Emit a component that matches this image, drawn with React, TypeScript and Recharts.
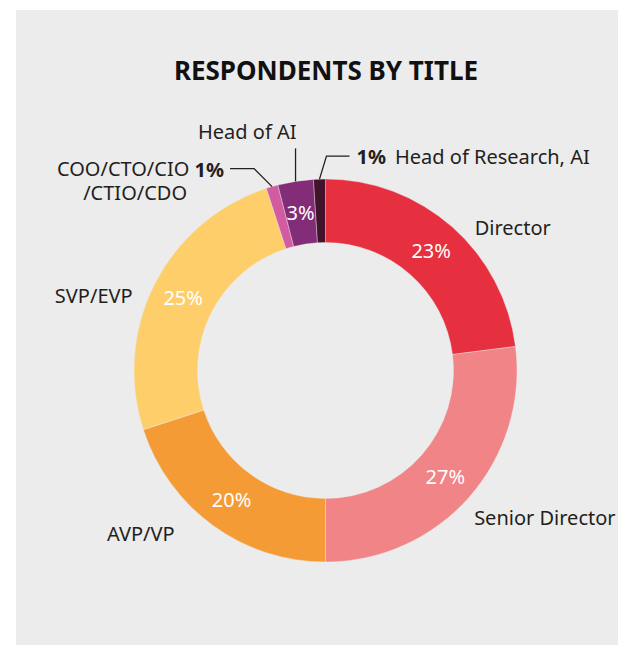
import React from "react";
import { Cell, Pie, PieChart } from "recharts";

const categories = [
  "Director",
  "Senior Director",
  "AVP/VP",
  "SVP/EVP",
  "COO/CTO/CIO/CTIO/CDO",
  "Head of AI",
  "Head of Research, AI",
];
const shares = [23, 27, 20, 25, 1, 3, 1];
const sliceColors = ["#e6303f", "#f08486", "#f49b35", "#fece6b", "#d35ca0", "#832d78", "#42132c"];

const data = categories.map((name, i) => ({ name, value: shares[i] }));

const RADIAN = Math.PI / 180;
const INK = "#231f20";
const FONT = "'Noto Sans', sans-serif";
const FS = 20;

// nudges for the big outside labels, relative to the point at outerRadius + 16
const nudge: Record<string, { dx: number; dy: number; anchor: "start" | "end" }> = {
  Director: { dx: 12, dy: 13, anchor: "start" },
  "Senior Director": { dx: -7, dy: 10, anchor: "start" },
  "AVP/VP": { dx: -29, dy: -5, anchor: "end" },
  "SVP/EVP": { dx: -8, dy: 19, anchor: "end" },
};

function renderLabel(props: any) {
  const { cx, cy, midAngle, innerRadius, outerRadius, index } = props;
  const name = categories[index];
  const value = shares[index];
  const cos = Math.cos(-midAngle * RADIAN);
  const sin = Math.sin(-midAngle * RADIAN);
  const mid = (innerRadius + outerRadius) / 2;
  const ex = cx + outerRadius * cos;
  const ey = cy + outerRadius * sin;

  const inside =
    value >= 3 ? (
      <text
        x={cx + mid * cos}
        y={cy + mid * sin}
        fill="#fff"
        fontSize={FS}
        fontFamily={FONT}
        textAnchor="middle"
        dominantBaseline="central"
      >
        {value}%
      </text>
    ) : null;

  let outside: React.ReactNode = null;
  if (nudge[name]) {
    const n = nudge[name];
    const r = outerRadius + 16;
    outside = (
      <text
        x={cx + r * cos + n.dx}
        y={cy + r * sin + n.dy}
        fill={INK}
        fontSize={FS}
        fontFamily={FONT}
        textAnchor={n.anchor}
        dominantBaseline="central"
      >
        {name}
      </text>
    );
  } else if (name === "Head of AI") {
    outside = (
      <g>
        <line x1={ex} y1={ey} x2={ex} y2={ey - 33} stroke={INK} strokeWidth={1.3} />
        <text x={ex + 1} y={ey - 50} fill={INK} fontSize={FS} fontFamily={FONT} textAnchor="end" dominantBaseline="central">
          {name}
        </text>
      </g>
    );
  } else if (name === "Head of Research, AI") {
    const kx = ex + 7;
    const ky = ey - 23;
    outside = (
      <g>
        <polyline points={`${ex},${ey} ${kx},${ky} ${kx + 23},${ky}`} fill="none" stroke={INK} strokeWidth={1.3} />
        <text x={kx + 30} y={ky} fill={INK} fontSize={FS} fontFamily={FONT} dominantBaseline="central">
          <tspan fontWeight={700}>{value}%</tspan>
          <tspan dx={9}>{name}</tspan>
        </text>
      </g>
    );
  } else {
    const kx = ex - 18;
    const ky = ey - 18;
    outside = (
      <g>
        <polyline points={`${ex},${ey} ${kx},${ky} ${kx - 24},${ky}`} fill="none" stroke={INK} strokeWidth={1.3} />
        <text x={kx - 30} y={ky} fill={INK} fontSize={FS} fontFamily={FONT} textAnchor="end" dominantBaseline="central">
          COO/CTO/CIO <tspan fontWeight={700}>{value}%</tspan>
          <tspan x={kx - 67} dy={23}>/CTIO/CDO</tspan>
        </text>
      </g>
    );
  }

  return (
    <g key={`lbl-${index}`}>
      {inside}
      {outside}
    </g>
  );
}

export default function App() {
  return (
    <div
      style={{
        position: "absolute",
        left: 16,
        top: 10,
        width: 602,
        height: 635,
        background: "#ececec",
        overflow: "hidden",
      }}
    >
      <div
        style={{
          position: "absolute",
          left: 0,
          top: 46,
          width: 620,
          textAlign: "center",
          fontFamily: FONT,
          fontWeight: 700,
          fontSize: 26,
          color: "#111",
          lineHeight: "28px",
        }}
      >
        RESPONDENTS BY TITLE
      </div>
      <PieChart width={602} height={635} margin={{ top: 0, right: 0, bottom: 0, left: 0 }} style={{ overflow: "visible" }}>
        <Pie
          data={data}
          dataKey="value"
          nameKey="name"
          cx={309.5}
          cy={360.5}
          innerRadius={128}
          outerRadius={191.5}
          startAngle={90}
          endAngle={-270}
          stroke="#ececec"
          strokeWidth={0.4}
          label={renderLabel}
          labelLine={false}
          isAnimationActive={false}
        >
          {data.map((d, i) => (
            <Cell key={d.name} fill={sliceColors[i]} />
          ))}
        </Pie>
      </PieChart>
    </div>
  );
}
